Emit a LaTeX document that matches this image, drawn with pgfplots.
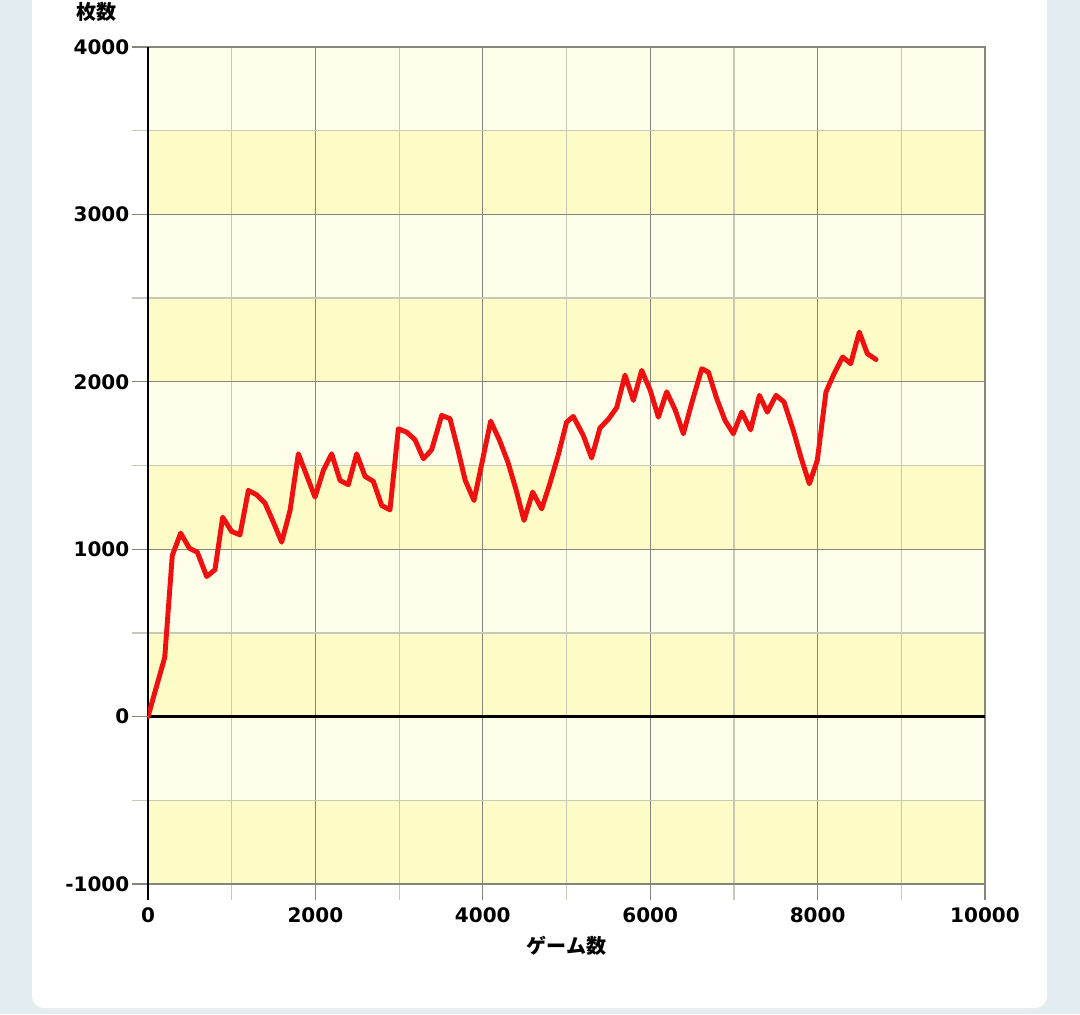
\documentclass[border=0pt]{standalone}
\usepackage{pgfplots}
\pgfplotsset{compat=1.18}
\usepackage{fontspec}
\setmainfont{DejaVu Sans}
\newfontfamily\jpfont{Noto Sans CJK JP}
\definecolor{bgblue}{HTML}{E2ECF1}
\definecolor{lband}{HTML}{FEFEEA}
\definecolor{yband}{HTML}{FDFBC6}
\definecolor{majg}{HTML}{85857C}
\definecolor{ming}{HTML}{C8C8B8}
\definecolor{linered}{RGB}{240,16,16}
\pgfplotstableread{
x y
0 0
200 354
290 962
390 1096
494 1006
589 982
701 837
800 877
892 1191
999 1106
1099 1086
1199 1351
1299 1325
1398 1275
1498 1161
1597 1042
1697 1231
1796 1570
1896 1440
1995 1311
2095 1470
2194 1570
2294 1411
2393 1385
2493 1570
2593 1435
2692 1405
2792 1261
2891 1235
2991 1719
3091 1699
3190 1654
3290 1540
3389 1594
3508 1799
3608 1780
3700 1600
3790 1411
3895 1291
4000 1540
4094 1765
4200 1650
4300 1520
4400 1350
4492 1172
4596 1341
4703 1241
4800 1390
4900 1560
5001 1759
5081 1793
5200 1680
5300 1545
5400 1725
5500 1776
5599 1845
5699 2040
5799 1889
5898 2068
6000 1950
6097 1789
6197 1940
6300 1830
6396 1690
6500 1880
6616 2078
6695 2058
6795 1899
6894 1769
6993 1690
7093 1819
7200 1713
7304 1919
7399 1819
7503 1919
7599 1879
7710 1709
7800 1550
7901 1391
7996 1530
8100 1939
8196 2048
8299 2148
8395 2108
8498 2297
8594 2168
8698 2133
}\datatable
\begin{document}
\begin{tikzpicture}
\fill[bgblue] (0,0) rectangle (810pt,760.5pt);
\fill[black!8] (25pt,760.5pt) [rounded corners=9pt] -- (25pt,3.5pt) -- (786pt,3.5pt) [sharp corners] -- (786pt,760.5pt) -- cycle;
\fill[white] (24pt,760.5pt) [rounded corners=9pt] -- (24pt,4.5pt) -- (785.25pt,4.5pt) [sharp corners] -- (785.25pt,760.5pt) -- cycle;
\fill[lband] (111pt,97.5pt) rectangle (738.75pt,725.25pt);
\foreach \k in {0,2,4,6,8} {
  \fill[yband] (111pt,97.5pt+\k*62.775pt) rectangle (738.75pt,97.5pt+\k*62.775pt+62.775pt);
}
\begin{axis}[
  at={(111pt,97.5pt)}, anchor=south west,
  scale only axis, width=627.75pt, height=627.75pt,
  xmin=0, xmax=10000, ymin=-1000, ymax=4000,
  xtick={2000,4000,6000,8000,10000},
  minor xtick={1000,3000,5000,7000,9000},
  ytick={-1000,1000,2000,3000,4000},
  minor ytick={-500,500,1500,2500,3500},
  extra x ticks={0}, extra y ticks={0},
  extra x tick style={grid=major, major grid style={black, line width=2pt}, major tick style={black, line width=2pt}},
  extra y tick style={grid=major, major grid style={black, line width=2pt}, major tick style={majg, line width=0.9pt}},
  grid=both,
  major grid style={majg, line width=0.9pt},
  minor grid style={ming, line width=0.9pt},
  tick align=outside,
  major tick length=12pt, minor tick length=12pt,
  major tick style={majg, line width=0.9pt},
  minor tick style={ming, line width=0.9pt},
  xtick pos=bottom, ytick pos=left,
  axis line style={majg, line width=0.9pt},
  scaled ticks=false,
  xticklabel style={font=\bfseries\fontsize{15}{18}\selectfont, yshift=-2.5pt, /pgf/number format/.cd, 1000 sep={}},
  yticklabel style={font=\bfseries\fontsize{15}{18}\selectfont, xshift=1.5pt, /pgf/number format/.cd, 1000 sep={}},
  /pgf/number format/assume math mode=true,
  xlabel={\jpfont\bfseries ゲーム数},
  xlabel style={font=\fontsize{15}{18}\selectfont, inner sep=0pt, at={(axis description cs:0.5,-0.074)}, anchor=center},
  ylabel={\jpfont\bfseries 枚数},
  ylabel style={font=\fontsize{15}{18}\selectfont, inner sep=0pt, at={(axis description cs:-0.061,1.042)}, anchor=center, rotate=-90},
]
\addplot[linered, line width=3.7pt, line join=round, line cap=round] table[x=x,y=y] {\datatable};
\end{axis}
\end{tikzpicture}
\end{document}
